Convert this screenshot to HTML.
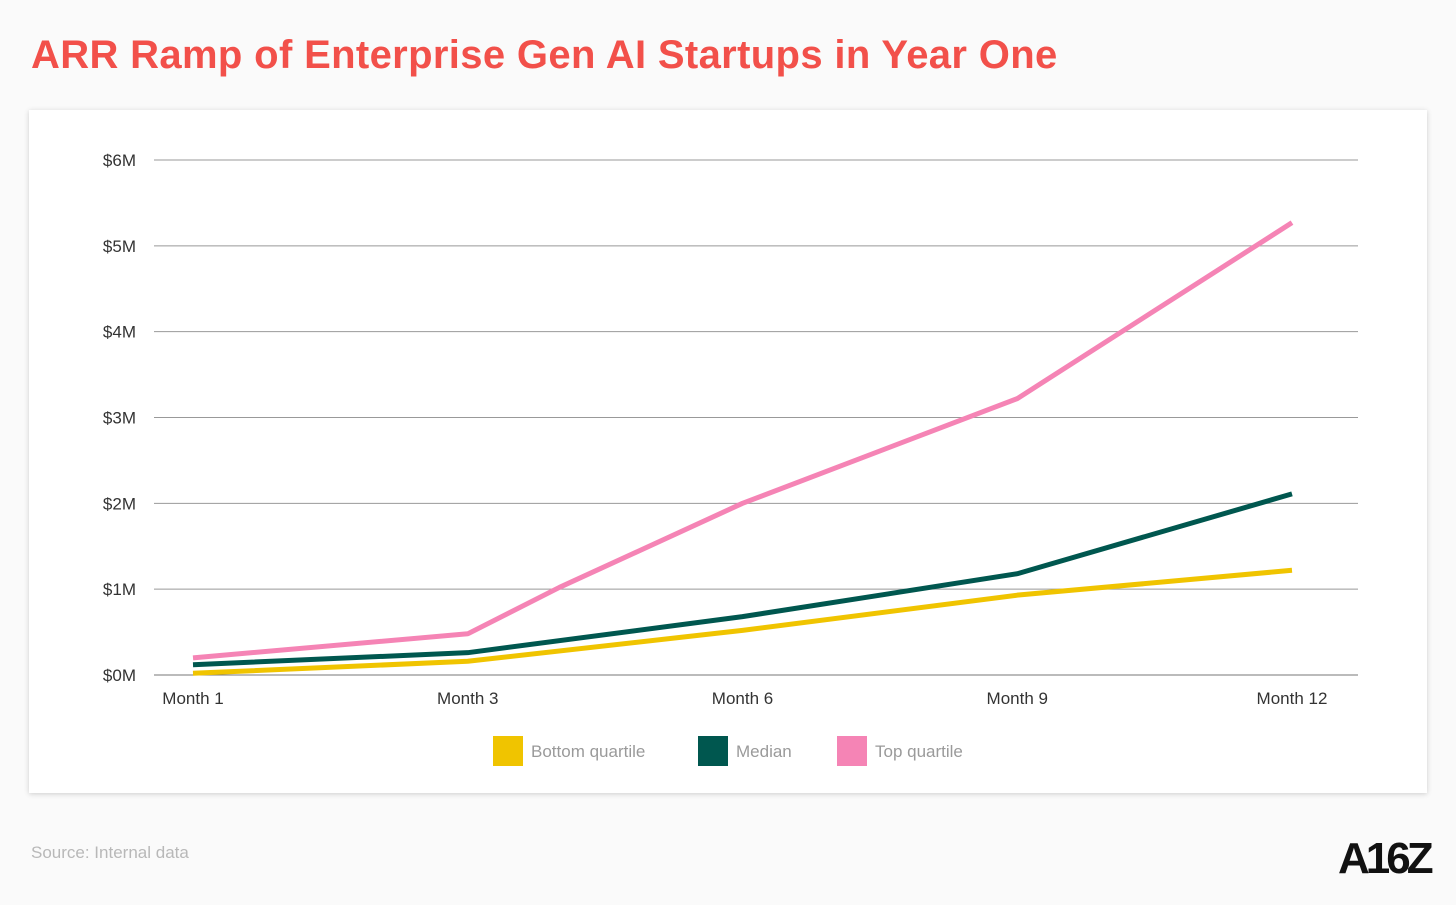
<!DOCTYPE html>
<html><head><meta charset="utf-8"><style>
body{margin:0;width:1456px;height:905px;background:#fafafa;font-family:"Liberation Sans",sans-serif;overflow:hidden;position:relative}
h1{position:absolute;left:31px;top:33px;margin:0;font-size:40px;font-weight:bold;color:#f2504a;letter-spacing:0.35px;white-space:nowrap}
#card{position:absolute;left:29px;top:110px;width:1398px;height:683px;background:#fff;box-shadow:0 1px 5px rgba(0,0,0,0.18)}
#src{position:absolute;left:31px;top:843px;font-size:17px;color:#b8b8b8}
#logo{position:absolute;left:1338px;top:834px;font-size:44px;font-weight:bold;color:#111;letter-spacing:-4px;font-family:"Liberation Sans Narrow","Liberation Sans",sans-serif}
</style></head><body>
<h1>ARR Ramp of Enterprise Gen AI Startups in Year One</h1>
<div id="card"></div>
<svg id="chart" width="1456" height="905" style="position:absolute;left:0;top:0"></svg>
<div id="src">Source: Internal data</div>
<div id="logo">A16Z</div>
<script>
const yTicks=[0,1,2,3,4,5,6];
const xLabels=["Month 1","Month 3","Month 6","Month 9","Month 12"];
const xLabelMonths=[1,3,6,9,12];
const seriesNames=["Bottom quartile","Median","Top quartile"];
const seriesColors=["#f0c400","#00574f","#f584b5"];
const bottomMonths=[1,3,6,9,12];
const bottomValues=[0.02,0.16,0.52,0.93,1.22];
const medianMonths=[1,3,6,9,12];
const medianValues=[0.12,0.26,0.68,1.18,2.11];
const topMonths=[1,3,4,6,9,12];
const topValues=[0.2,0.48,1.02,2.0,3.22,5.27];

const NS="http://www.w3.org/2000/svg";
const svg=document.getElementById('chart');
const x0=154,x1=1358,yBase=675,yTop=160,labelX0=193,labelX1=1292;
function y(v){return yBase-(v/6)*(yBase-yTop);}
function catX(i){return labelX0+i*(labelX1-labelX0)/(xLabels.length-1);}
function x(m){
  for(let i=0;i<xLabelMonths.length-1;i++){
    const a=xLabelMonths[i],b=xLabelMonths[i+1];
    if(m>=a&&m<=b) return catX(i)+(m-a)/(b-a)*(catX(i+1)-catX(i));
  }
  return catX(xLabelMonths.length-1);
}
function mk(t,attrs){const e=document.createElementNS(NS,t);for(const k in attrs)e.setAttribute(k,attrs[k]);svg.appendChild(e);return e;}
yTicks.forEach(v=>{
  const l=mk('line',{x1:x0,x2:x1,y1:y(v),y2:y(v),stroke:v===0?'#777':'#999','stroke-width':1});
  
  
  const t=mk('text',{x:136,y:y(v)+6,'text-anchor':'end','font-size':17,fill:'#333','font-family':'Liberation Sans, sans-serif'});
  t.textContent='$'+v+'M';
  
  
});
xLabels.forEach((s,i)=>{
  const t=mk('text',{x:catX(i),y:704,'text-anchor':'middle','font-size':17,fill:'#333','font-family':'Liberation Sans, sans-serif'});
  t.textContent=s;
  
  
});
const all=[[bottomMonths,bottomValues],[medianMonths,medianValues],[topMonths,topValues]];
all.forEach((s,k)=>{
  const pts=s[0].map((m,i)=>x(m)+','+y(s[1][i])).join(' ');
  const p=mk('polyline',{points:pts,fill:'none',stroke:seriesColors[k],'stroke-width':5,'stroke-linejoin':'round','stroke-linecap':'butt'});
  
  
});
const legX=[493,698,837];
seriesNames.forEach((n,k)=>{
  const r=mk('rect',{x:legX[k],y:736,width:30,height:30,fill:seriesColors[k]});
  
  
  const t=mk('text',{x:legX[k]+38,y:757,'font-size':17,fill:'#9a9a9a','font-family':'Liberation Sans, sans-serif'});
  t.textContent=n;
  
  
});
</script>
</body></html>
